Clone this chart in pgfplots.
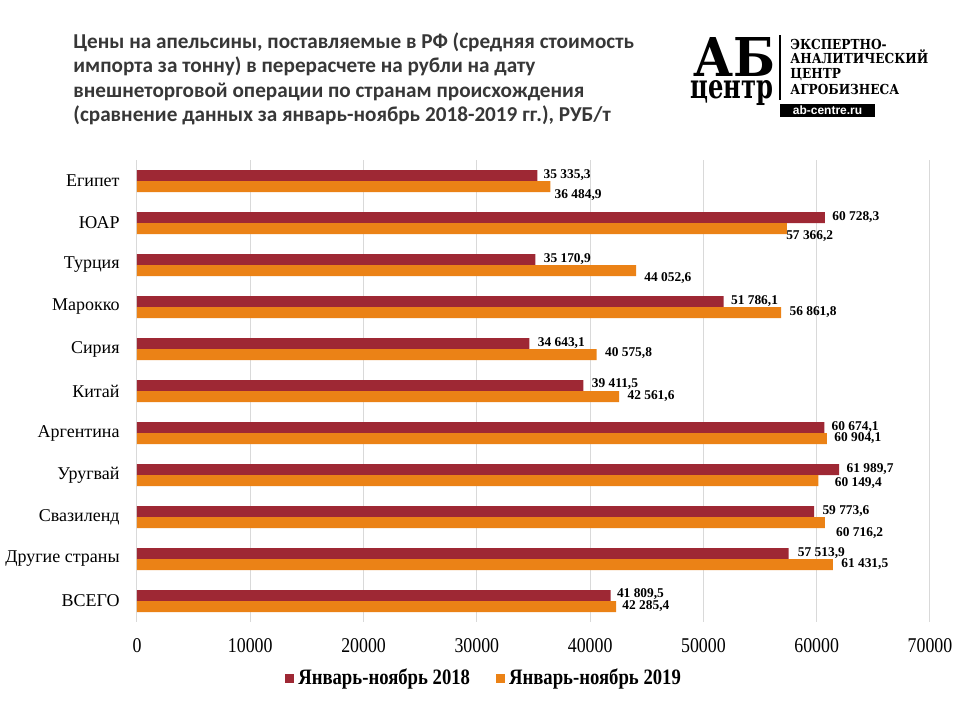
\documentclass[border=0pt]{standalone}
\usepackage{fontspec}
\setmainfont{Liberation Serif}
\newfontfamily\titlefont{Carlito}
\newfontfamily\condfont[FakeStretch=0.85]{Liberation Serif}
\newfontfamily\logofont[FakeStretch=0.88]{DejaVu Serif}
\newfontfamily\webfont{Liberation Sans}
\usepackage{pgfplots}
\usepackage{pgfplotstable}
\pgfplotsset{compat=1.18}

\definecolor{c2018}{RGB}{158,40,52}
\definecolor{c2019}{RGB}{235,130,22}
\definecolor{gridgray}{RGB}{217,217,217}
\definecolor{titlegray}{RGB}{55,55,55}

% y = row (0 = top), dx/dy = label offsets in pt
\pgfplotstableread{
y  x        dx   dy
0  35335.3  3.0  0
1  60728.3  3.5  0
2  35170.9  4.0  0
3  51786.1  3.5  0
4  34643.1  4.0  0
5  39411.5  4.0  0.5
6  60674.1  3.5  0
7  61989.7  3.5  0
8  59773.6  4.0  0
9  57513.9  4.5  0
10 41809.5  3.0  0.5
}\dataA

\pgfplotstableread{
y  x        dx   dy
0  36484.9  2.0  -4.5
1  57366.2  -0.5 -4.0
2  44052.6  4.0  -4.0
3  56861.8  4.0  0
4  40575.8  4.0  0.5
5  42561.6  4.0  0
6  60904.1  3.5  0
7  60149.4  8.0  -1.5
8  60716.2  5.5  -5.5
9  61431.5  4.0  0
10 42285.4  3.0  0
}\dataB

\begin{document}
\begin{tikzpicture}
\path[use as bounding box] (0,0) rectangle (480pt,-360pt);

% title
\node[anchor=north west, inner sep=0pt, align=left, text=titlegray,
      font=\titlefont\bfseries\fontsize{10.6}{12.1}\selectfont]
  at (36.5pt,-16.3pt)
  {Цены на апельсины, поставляемые в РФ (средняя стоимость\\
   импорта за тонну) в перерасчете на рубли на дату\\
   внешнеторговой операции по странам происхождения\\
   (сравнение данных за январь-ноябрь 2018-2019 гг.), РУБ/т};

% logo
\node[anchor=south west, inner sep=0pt] at (346.5pt,-38.5pt)
  {\resizebox{41pt}{19.5pt}{\logofont\bfseries АБ}};
\node[anchor=base west, inner sep=0pt] at (345pt,-49pt)
  {\resizebox{41.5pt}{9pt}{\logofont\bfseries центр}};
\draw[line width=1pt] (390pt,-17.5pt) -- (390pt,-50pt);
\begin{scope}[every node/.style={anchor=base west, inner sep=0pt,
    font=\logofont\bfseries\fontsize{6.9}{8}\selectfont}]
\node at (395pt,-24.75pt) {ЭКСПЕРТНО-};
\node at (395pt,-31.9pt) {АНАЛИТИЧЕСКИЙ};
\node at (395pt,-39.3pt) {ЦЕНТР};
\node at (395pt,-47pt) {АГРОБИЗНЕСА};
\end{scope}
\fill (390pt,-52pt) rectangle (437.5pt,-58.5pt);
\node[text=white, inner sep=0pt, font=\webfont\bfseries\fontsize{6}{7}\selectfont]
  at (413.75pt,-55.25pt) {ab-centre.ru};

\begin{axis}[
    at={(68.5pt,-311pt)}, anchor=south west,
    scale only axis,
    width=396.5pt, height=231pt,
    xmin=0, xmax=70000,
    ymin=-0.5, ymax=10.5,
    y dir=reverse,
    xbar, bar width=0.262,
    axis line style={draw=none},
    major tick length=0pt,
    xtick={0,10000,...,70000},
    scaled x ticks=false,
    xmajorgrids, grid style={gridgray, line width=0.5pt},
    ytick={0,...,10},
    yticklabels={Египет,ЮАР,Турция,Марокко,Сирия,Китай,Аргентина,Уругвай,Свазиленд,Другие страны,ВСЕГО},
    yticklabel style={font=\fontsize{9}{10}\selectfont, inner sep=0pt, xshift=-8.5pt},
    xticklabel style={font=\condfont\fontsize{10.5}{12}\selectfont, inner sep=0pt, yshift=-8pt,
      /pgf/number format/1000 sep={}, /pgf/number format/assume math mode=true},
    nodes near coords,
    nodes near coords style={font=\bfseries\fontsize{6.7}{7}\selectfont,
      anchor=west, inner sep=0pt, text=black,
      xshift=\labdx pt, yshift=\labdy pt,
      /pgf/number format/.cd, fixed, fixed zerofill, precision=1,
      use comma, 1000 sep={\ }, assume math mode=true},
    clip=false,
    legend columns=2,
    legend style={draw=none, at={(0.439,0)}, anchor=center, yshift=-28pt,
      font=\condfont\bfseries\fontsize{11}{12}\selectfont,
      /tikz/every even column/.append style={column sep=11pt}},
    legend image code/.code={\fill[#1] (0pt,-2.25pt) rectangle (4.5pt,2.25pt);},
]
\addplot[fill=c2018, draw=none, bar shift=-0.131, point meta=x,
  visualization depends on={\thisrow{dx} \as \labdx},
  visualization depends on={\thisrow{dy} \as \labdy}]
  table[x=x, y=y] {\dataA};
\addplot[fill=c2019, draw=none, bar shift=0.131, point meta=x,
  visualization depends on={\thisrow{dx} \as \labdx},
  visualization depends on={\thisrow{dy} \as \labdy}]
  table[x=x, y=y] {\dataB};
\legend{Январь-ноябрь 2018, Январь-ноябрь 2019}
\end{axis}
\end{tikzpicture}
\end{document}
